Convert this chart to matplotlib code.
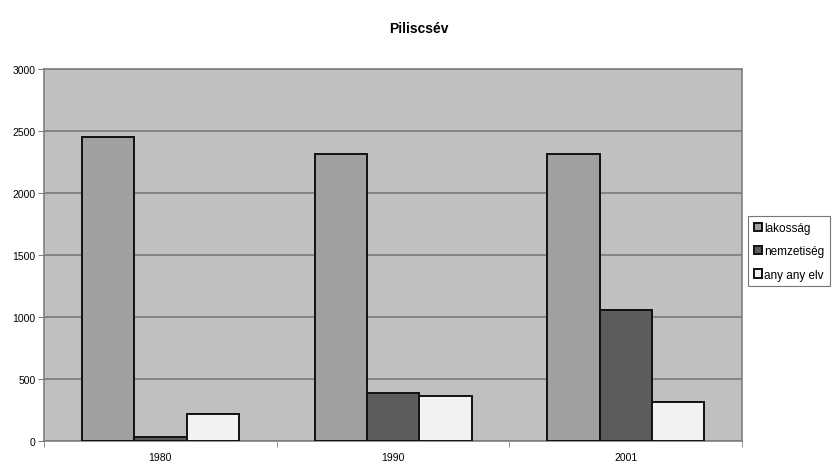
import numpy as np
import matplotlib.pyplot as plt
from matplotlib.ticker import FixedLocator

plt.rcParams['font.family'] = ['Liberation Sans', 'DejaVu Sans']

# Piliscsév: lakosság, nemzetiség, anyanyelv
evek = ['1980', '1990', '2001']
lakossag = [2450, 2315, 2312]
nemzetiseg = [35, 385, 1056]
anyanyelv = [220, 363, 315]

sorozatok = [('lakosság', lakossag, '#a0a0a0'),
             ('nemzetiség', nemzetiseg, '#5c5c5c'),
             ('any any elv', anyanyelv, '#f2f2f2')]

fig = plt.figure(figsize=(8.37, 4.64), dpi=100)
ax = fig.add_axes([0.0526, 0.0474, 0.834, 0.8016])
ax.set_facecolor('#c0c0c0')

x = np.arange(len(evek))
w = 0.225
for i, (nev, ertek, szin) in enumerate(sorozatok):
    ax.bar(x + (i - 1) * w, ertek, width=w, color=szin, edgecolor='#111111',
           linewidth=1.4, label=nev, zorder=3)

ax.set_ylim(0, 3000)
ax.set_xlim(-0.5, 2.5)
ax.set_yticks(np.arange(0, 3001, 500))
ax.yaxis.grid(True, color='#7a7a7a', linewidth=1.2, zorder=1)
ax.set_axisbelow(True)

ax.set_xticks(x)
ax.set_xticklabels(evek)
ax.xaxis.set_minor_locator(FixedLocator([-0.5, 0.5, 1.5, 2.5]))
ax.tick_params(axis='x', which='major', length=0, labelsize=7.5, pad=8)
ax.tick_params(axis='x', which='minor', length=4, color='#808080')
ax.tick_params(axis='y', length=4, color='#808080', labelsize=7.5, pad=2)

for s in ax.spines.values():
    s.set_color('#808080')
    s.set_linewidth(1.2)

fig.suptitle('Piliscsév', x=0.5, y=0.952, fontsize=10, fontweight='bold')

leg = ax.legend(loc='center left', bbox_to_anchor=(1.008, 0.51), fontsize=8.5,
                frameon=True, fancybox=False, edgecolor='#555555',
                handlelength=0.7, handleheight=0.7, handletextpad=0.2,
                borderpad=0.5, labelspacing=0.95, borderaxespad=0)
leg.get_frame().set_linewidth(0.8)

fig.savefig('out.png', dpi=100)
